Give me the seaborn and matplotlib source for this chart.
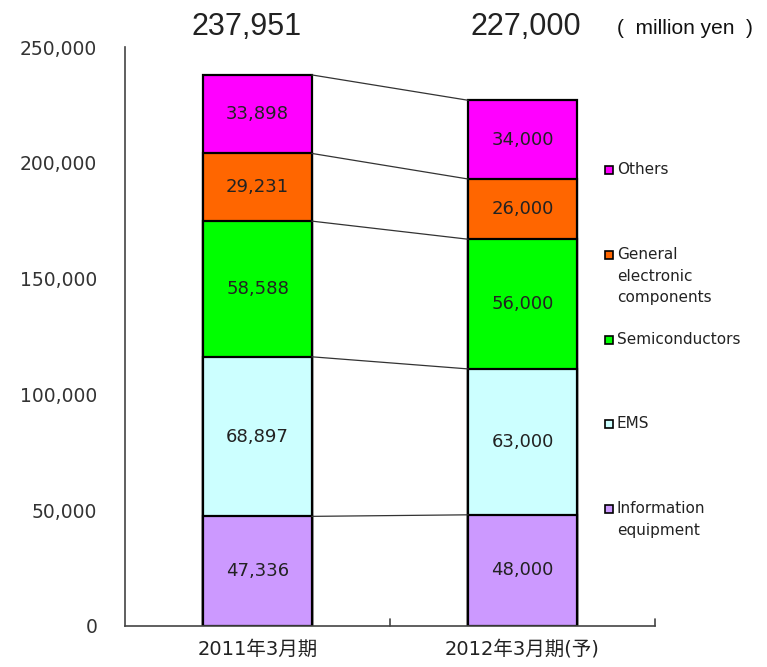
import matplotlib
matplotlib.use("Agg")
import matplotlib.pyplot as plt
import seaborn as sns
import pandas as pd
import numpy as np

periods = ["2011年3月期", "2012年3月期(予)"]
segments = ["Information\nequipment", "EMS", "Semiconductors",
            "General\nelectronic\ncomponents", "Others"]
info_equipment = [47336, 48000]
ems = [68897, 63000]
semiconductors = [58588, 56000]
general_components = [29231, 26000]
others = [33898, 34000]
totals = [237951, 227000]
unit_label = "(  million yen  )"
yticks = [0, 50000, 100000, 150000, 200000, 250000]

colors = ["#CC99FF", "#CCFFFF", "#00FF00", "#FF6600", "#FF00FF"]

sns.set_style("white")
plt.rcParams["font.family"] = ["DejaVu Sans", "Noto Sans CJK JP"]

layers = [info_equipment, ems, semiconductors, general_components, others]
cum = np.cumsum(np.array(layers), axis=0)

fig = plt.figure(figsize=(7.67, 6.67), dpi=100)
ax = fig.add_axes([0.163, 0.0615, 0.691, 0.868])

bar_w = 0.41
for i in range(len(layers) - 1, -1, -1):
    df = pd.DataFrame({"period": periods, "value": cum[i]})
    sns.barplot(data=df, x="period", y="value", color=colors[i], width=bar_w,
                edgecolor="black", linewidth=1.6, ax=ax, saturation=1)

# connector lines
for i in range(len(layers)):
    ax.plot([0 + bar_w / 2, 1 - bar_w / 2], [cum[i][0], cum[i][1]],
            color="#333333", lw=0.9, zorder=1)

# value labels
for i, layer in enumerate(layers):
    for j, v in enumerate(layer):
        y = cum[i][j] - v / 2
        ax.text(j, y, f"{v:,}", ha="center", va="center", fontsize=13,
                color="#222222")

ax.set_xlim(-0.5, 1.5)
ax.set_ylim(0, 250000)
ax.set_yticks(yticks)
ax.set_yticklabels([f"{t:,}" for t in yticks], fontsize=13.5, color="#333333")
ax.set_xticks([0, 1])
ax.set_xticklabels(periods, fontsize=14, color="#222222")
ax.set_xlabel("")
ax.set_ylabel("")
for s in ["top", "right"]:
    ax.spines[s].set_visible(False)
for s in ["left", "bottom"]:
    ax.spines[s].set_color("#444444")
    ax.spines[s].set_linewidth(1.2)
ax.tick_params(axis="y", direction="in", length=0, pad=20)
ax.tick_params(axis="x", direction="in", length=0, pad=10)
# category boundary ticks
for xb in [0.5, 1.5]:
    ax.plot([xb, xb], [0, 3000], color="#444444", lw=1.2, clip_on=False)

# totals
total_x = [247 / 767, 526 / 767]
for xf, t in zip(total_x, totals):
    fig.text(xf, 1 - 27 / 667, f"{t:,}", ha="center", va="center",
             fontsize=22, color="#222222",
             family=["Liberation Sans", "DejaVu Sans"])
fig.text(685 / 767, 1 - 28 / 667, unit_label, ha="center", va="center",
         fontsize=15, color="#111111", family=["Liberation Sans", "DejaVu Sans"])

# legend (top to bottom: Others ... Information equipment)
legend_y = {4: 170, 3: 255, 2: 340, 1: 424, 0: 509}
for i, seg in enumerate(segments):
    yp = legend_y[i]
    fy = 1 - yp / 667
    fig.patches.append(plt.Rectangle((605 / 767, fy - 0.006), 0.0105, 0.012,
                                     transform=fig.transFigure, facecolor=colors[i],
                                     edgecolor="black", lw=1.2))
    fig.text(617 / 767, fy + 0.012, seg, ha="left", va="top", fontsize=11,
             color="#222222", linespacing=1.55)

fig.savefig("out.png", dpi=100)
